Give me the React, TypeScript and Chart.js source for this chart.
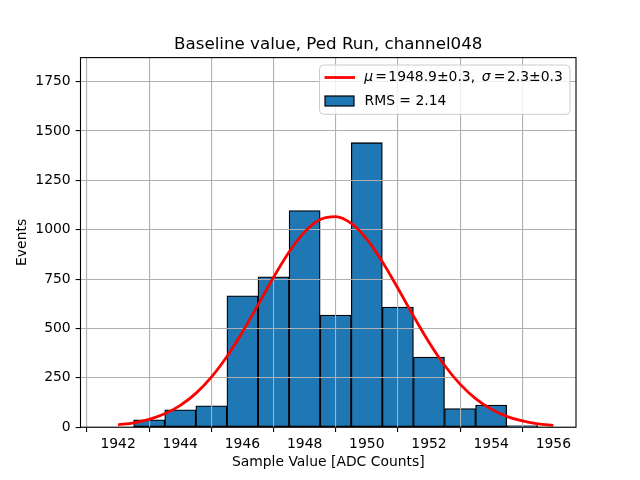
import React, { useEffect, useRef } from "react";
import { Chart, registerables } from "chart.js";

Chart.register(...registerables);

const binCenters = [1942, 1943, 1944, 1945, 1946, 1947, 1948, 1949, 1950, 1951, 1952, 1953, 1954, 1955];
const counts = [0, 37, 88, 108, 666, 762, 1097, 568, 1441, 609, 355, 94, 112, 8];

const fitX = [
  1942, 1942.5, 1943, 1943.5, 1944, 1944.5, 1945, 1945.5, 1946, 1946.5, 1947, 1947.5, 1948, 1948.5, 1949,
  1949.5, 1950, 1950.5, 1951, 1951.5, 1952, 1952.5, 1953, 1953.5, 1954, 1954.5, 1955, 1955.5, 1956,
];
const fitY = [
  11.9, 22.2, 39.8, 67.9, 110.4, 171.4, 253.6, 358.1, 482.3, 619.6, 759.2, 887.4, 989.3, 1052, 1067,
  1032.3, 952.6, 838.5, 704, 563.7, 430.6, 313.7, 218, 144.5, 91.4, 55.1, 31.7, 17.4, 9.1,
];

const xTicks = [1942, 1944, 1946, 1948, 1950, 1952, 1954, 1956];
const yTicks = [0, 250, 500, 750, 1000, 1250, 1500, 1750];

const titleText = "Baseline value, Ped Run, channel048";
const xLabel = "Sample Value [ADC Counts]";
const yLabel = "Events";
const fitLabel = [
  { t: "μ", italic: true, x: 364.3 },
  { t: "=", italic: false, x: 375.2 },
  { t: "1948.9±0.3,", italic: false, x: 388.3 },
  { t: "σ", italic: true, x: 481.8 },
  { t: "=", italic: false, x: 493.8 },
  { t: "2.3±0.3", italic: false, x: 507 },
];
const rmsLabel = "RMS = 2.14";

const FONT = "'DejaVu Sans', sans-serif";
const FS = 13.9;

const mplPlugin = {
  id: "mplPlugin",
  beforeDatasetDraw(chart: any, args: any) {
    if (args.index === 0) return false;
    return true;
  },
  afterDraw(chart: any) {
    const ctx = chart.ctx as CanvasRenderingContext2D;
    const a = chart.chartArea;
    // fit line above grid
    ctx.save();
    ctx.beginPath();
    ctx.rect(a.left, a.top, a.right - a.left, a.bottom - a.top);
    ctx.clip();
    chart.getDatasetMeta(0).controller.draw();
    ctx.restore();
    // spines
    ctx.save();
    ctx.strokeStyle = "black";
    ctx.lineWidth = 1.1;
    ctx.strokeRect(a.left, a.top, a.right - a.left, a.bottom - a.top);
    ctx.restore();
    // title
    ctx.save();
    ctx.fillStyle = "black";
    ctx.font = `16.7px ${FONT}`;
    ctx.textAlign = "center";
    ctx.textBaseline = "alphabetic";
    ctx.fillText(titleText, (a.left + a.right) / 2, 49.3);
    ctx.restore();
    // legend
    ctx.save();
    const lx = 319.5, ly = 65, lw = 250.5, lh = 49.3, r = 4;
    ctx.beginPath();
    ctx.moveTo(lx + r, ly);
    ctx.lineTo(lx + lw - r, ly);
    ctx.arcTo(lx + lw, ly, lx + lw, ly + r, r);
    ctx.lineTo(lx + lw, ly + lh - r);
    ctx.arcTo(lx + lw, ly + lh, lx + lw - r, ly + lh, r);
    ctx.lineTo(lx + r, ly + lh);
    ctx.arcTo(lx, ly + lh, lx, ly + lh - r, r);
    ctx.lineTo(lx, ly + r);
    ctx.arcTo(lx, ly, lx + r, ly, r);
    ctx.closePath();
    ctx.fillStyle = "rgba(255,255,255,0.8)";
    ctx.fill();
    ctx.strokeStyle = "#cccccc";
    ctx.lineWidth = 1;
    ctx.stroke();
    // line handle
    ctx.strokeStyle = "red";
    ctx.lineWidth = 2.8;
    ctx.beginPath();
    ctx.moveTo(324.5, 77.5);
    ctx.lineTo(355, 77.5);
    ctx.stroke();
    // patch handle
    ctx.fillStyle = "#1f77b4";
    ctx.fillRect(325, 96, 29, 10);
    ctx.strokeStyle = "black";
    ctx.lineWidth = 1.2;
    ctx.strokeRect(325, 96, 29, 10);
    // texts
    ctx.fillStyle = "black";
    ctx.textBaseline = "middle";
    ctx.textAlign = "left";
    for (const seg of fitLabel) {
      ctx.font = `${seg.italic ? "italic " : ""}${FS}px ${FONT}`;
      ctx.fillText(seg.t, seg.x, 77.5);
    }
    ctx.font = `${FS}px ${FONT}`;
    ctx.fillText(rmsLabel, 364.5, 101.5);
    ctx.restore();
  },
};

export default function App() {
  const ref = useRef<HTMLCanvasElement | null>(null);
  useEffect(() => {
    if (!ref.current) return;
    const chart = new Chart(ref.current, {
      type: "bar",
      data: {
        datasets: [
          {
            type: "line",
            label: "fit",
            data: fitX.map((x, i) => ({ x, y: fitY[i] })),
            borderColor: "red",
            borderWidth: 2.8,
            pointRadius: 0,
            cubicInterpolationMode: "monotone",
            fill: false,
            order: 0,
          } as any,
          {
            type: "bar",
            label: "hist",
            data: binCenters.map((x, i) => ({ x, y: counts[i] })),
            backgroundColor: "#1f77b4",
            borderColor: "black",
            borderWidth: 1.3,
            borderSkipped: false,
            barPercentage: 1,
            categoryPercentage: 1,
            order: 1,
          } as any,
        ],
      },
      options: {
        responsive: false,
        animation: false,
        events: [],
        layout: { padding: { top: 57.6, right: 64, left: 0, bottom: 0 } },
        plugins: {
          legend: { display: false },
          tooltip: { enabled: false },
          title: { display: false },
        },
        scales: {
          x: {
            type: "linear",
            min: 1940.79,
            max: 1956.73,
            offset: false,
            afterFit: (s: any) => {
              s.height = 52.8;
            },
            afterBuildTicks: (s: any) => {
              s.ticks = xTicks.map((v) => ({ value: v }));
            },
            ticks: {
              color: "black",
              font: { family: FONT, size: FS },
              padding: 3.5,
              maxRotation: 0,
              autoSkip: false,
              callback: (v: any) => String(v),
            },
            grid: { color: "#b0b0b0", lineWidth: 1.1, tickColor: "black", tickLength: 4.9, z: 1 },
            border: { display: false },
            title: {
              display: true,
              text: xLabel,
              color: "black",
              font: { family: FONT, size: FS },
              padding: { top: 9, bottom: 9 },
            },
          },
          y: {
            type: "linear",
            min: 0,
            max: 1872,
            afterFit: (s: any) => {
              s.width = 80.5;
            },
            afterBuildTicks: (s: any) => {
              s.ticks = yTicks.map((v) => ({ value: v }));
            },
            ticks: {
              color: "black",
              font: { family: FONT, size: FS },
              padding: 4.9,
              autoSkip: false,
              callback: (v: any) => String(v),
            },
            grid: { color: "#b0b0b0", lineWidth: 1.1, tickColor: "black", tickLength: 4.9, z: 1 },
            border: { display: false },
            title: {
              display: true,
              text: yLabel,
              color: "black",
              font: { family: FONT, size: FS },
              padding: { top: 14, bottom: 14 },
            },
          },
        },
      } as any,
      plugins: [mplPlugin],
    });
    return () => chart.destroy();
  }, []);
  return (
    <div style={{ position: "fixed", left: 0, top: 0, width: 640, height: 480, background: "white" }}>
      <canvas ref={ref} width={640} height={480} style={{ width: 640, height: 480 }} />
    </div>
  );
}
